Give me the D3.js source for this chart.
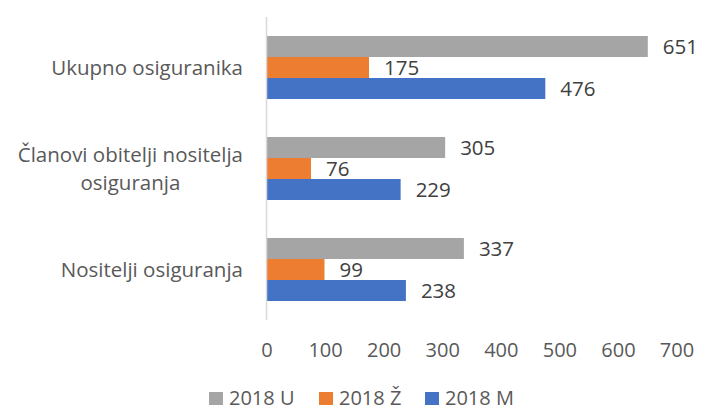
<!DOCTYPE html>
<html>
<head>
<meta charset="utf-8">
<script src="https://cdn.jsdelivr.net/npm/d3@7"></script>
<style>
  body { margin: 0; background: #fff; }
  svg { display: block; font-family: "Open Sans", sans-serif; }
</style>
</head>
<body>
<div id="chart"></div>
<script>
// data
const categories = ["Ukupno osiguranika", "Članovi obitelji nositelja osiguranja", "Nositelji osiguranja"];
const seriesNames = ["2018 U", "2018 Ž", "2018 M"];
const valuesU = [651, 305, 337];
const valuesZ = [175, 76, 99];
const valuesM = [476, 229, 238];
const tickValues = [0, 100, 200, 300, 400, 500, 600, 700];
const colors = ["#A5A5A5", "#ED7D31", "#4472C4"];

const W = 702, H = 412;
const svg = d3.select("#chart").append("svg").attr("width", W).attr("height", H);

const rows = [valuesU, valuesZ, valuesM];
const table = categories.map((c, i) => ({
  cat: c,
  vals: seriesNames.map((s, j) => ({ s, j, v: rows[j][i] }))
}));

const x = d3.scaleLinear().domain([0, 700]).range([266.5, 676.5]);
const y0 = d3.scaleBand().domain(categories).range([17, 320]);
const bw = y0.bandwidth();
const y1 = d3.scaleBand().domain(seriesNames).range([bw * 0.188, bw * 0.812]);

// bars
const g = svg.selectAll("g.grp").data(table).enter().append("g")
  .attr("transform", d => `translate(0,${y0(d.cat)})`);

g.selectAll("rect").data(d => d.vals).enter().append("rect")
  .attr("x", x(0))
  .attr("y", d => y1(d.s))
  .attr("width", d => x(d.v) - x(0))
  .attr("height", y1.bandwidth())
  .attr("fill", d => colors[d.j]);

g.selectAll("text.val").data(d => d.vals).enter().append("text")
  .attr("class", "val")
  .attr("x", d => x(d.v) + 15)
  .attr("y", d => y1(d.s) + y1.bandwidth() / 2)
  .attr("dy", "0.35em")
  .attr("font-size", 20.5)
  .attr("fill", "#404040")
  .text(d => d.v);

// axis line
svg.append("line")
  .attr("x1", x(0)).attr("x2", x(0))
  .attr("y1", 17).attr("y2", 320)
  .attr("stroke", "#D9D9D9").attr("stroke-width", 1.5);

// x tick labels
const xAxis = d3.axisBottom(x).tickValues(tickValues).tickSize(0).tickPadding(0);
const ax = svg.append("g").attr("transform", "translate(0,343)").call(xAxis);
ax.select(".domain").remove();
ax.selectAll("text")
  .attr("font-family", "Open Sans, sans-serif")
  .attr("font-size", 20)
  .attr("fill", "#595959")
  .attr("dy", "0.71em");

// category labels (wrapped)
const labelRight = 243, maxW = 240;
svg.selectAll("text.cat").data(categories).enter().append("text")
  .attr("class", "cat")
  .attr("font-size", 20.5)
  .attr("fill", "#595959")
  .attr("text-anchor", "middle")
  .each(function (c) {
    const t = d3.select(this);
    const words = c.split(" ");
    const lines = [];
    let line = [];
    const probe = t.append("tspan");
    words.forEach(w => {
      const test = line.concat(w).join(" ");
      probe.text(test);
      if (probe.node().getComputedTextLength() > maxW && line.length) {
        lines.push(line.join(" "));
        line = [w];
      } else line = line.concat(w);
    });
    lines.push(line.join(" "));
    probe.remove();
    let widest = 0;
    const spans = lines.map(l => {
      const s = t.append("tspan").text(l);
      widest = Math.max(widest, s.node().getComputedTextLength());
      return s;
    });
    const cx = labelRight - widest / 2;
    const lh = 28;
    const cy = y0(c) + bw / 2 - (lines.length - 1) * lh / 2;
    spans.forEach((s, i) => s.attr("x", cx).attr("y", cy + i * lh).attr("dy", "0.35em"));
  });

// legend
const legX = [209, 319, 425];
const leg = svg.selectAll("g.leg").data(seriesNames).enter().append("g")
  .attr("transform", (d, i) => `translate(${legX[i]},398)`);
leg.append("rect").attr("x", 0).attr("y", -6).attr("width", 14).attr("height", 13)
  .attr("fill", (d, i) => colors[i]);
leg.append("text").attr("x", 20).attr("dy", "0.35em")
  .attr("font-size", 20).attr("fill", "#595959").text(d => d);
</script>
</body>
</html>
